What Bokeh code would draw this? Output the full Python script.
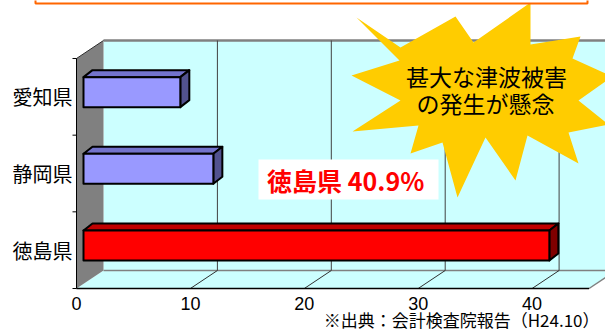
from bokeh.plotting import figure
from bokeh.models import Range1d
from bokeh.core.properties import value
from bokeh.embed import file_html
from bokeh.resources import INLINE

# ---------------- data ----------------
categories = ["徳島県", "静岡県", "愛知県"]      # bottom -> top
values = [40.9, 11.4, 8.5]
bar_colors = ["#FF0000", "#9999FF", "#9999FF"]
top_colors = ["#C00000", "#7373CC", "#7373CC"]
side_colors = ["#800000", "#52528F", "#52528F"]
x_ticks = [0, 10, 20, 30, 40]
x_max = 45
callout_lines = ["甚大な津波被害", "の発生が懸念"]
highlight_text = "徳島県  40.9%"
source_text = "※出典：会計検査院報告（H24.10）"

# ---------------- geometry (pixel layout of the 3-D box) ----------------
W, H = 605, 332
X0_PX, KX = 76.0, 11.39        # value 0 on front plane, px per unit
Y0_PX, KY = 288.0, 76.67       # front floor line, px per category
DEPTH_DX, DEPTH_DY = 27.0, 18.0
BAR_SHIFT_DX, BAR_SHIFT_DY = 7.0, 4.7
BAR_DX, BAR_DY = 9.0, 7.0
BAR_HALF = 15.0 / KY

def X(px):
    return (px - X0_PX) / KX

def Y(py):
    return (Y0_PX - py) / KY

p = figure(width=W, height=H, output_backend="svg", toolbar_location=None,
           x_range=Range1d(X(0), X(W)), y_range=Range1d(Y(H), Y(0)),
           min_border=0, background_fill_color="white", border_fill_color="white")
p.axis.visible = False
p.grid.visible = False
p.outline_line_color = None

ddx, ddy = DEPTH_DX / KX, DEPTH_DY / KY
ncat = len(categories)
ytop = ncat

# back wall
p.patch([0 + ddx, x_max + ddx, x_max + ddx, 0 + ddx],
        [ytop + ddy, ytop + ddy, ddy, ddy], fill_color="#CCFFFF", line_color=None)
# floor
p.patch([0, x_max, x_max + ddx, ddx], [0, 0, ddy, ddy], fill_color="#CCFFFF", line_color=None)
# side wall
p.patch([0, ddx, ddx, 0], [ytop, ytop + ddy, ddy, 0], fill_color="#808080", line_color=None)

# back wall top border and floor back edge
p.line([ddx, x_max + ddx], [ytop + ddy, ytop + ddy], line_color="#808080", line_width=2.5)
p.line([ddx, x_max + ddx], [ddy, ddy], line_color="#808080", line_width=1.5)
p.line([x_max, x_max + ddx], [0, ddy], line_color="#808080", line_width=1.5)

# gridlines on back wall + floor diagonals
for t in x_ticks[1:]:
    p.line([t + ddx, t + ddx], [ddy, ytop + ddy], line_color="#404040", line_width=1)
    p.line([t, t + ddx], [0, ddy], line_color="#303030", line_width=1)

# wall top edge
p.line([0, ddx], [ytop, ytop + ddy], line_color="#303030", line_width=1)
# axes lines
p.line([0, x_max], [0, 0], line_color="black", line_width=1.5)
p.line([0, 0], [0, ytop], line_color="black", line_width=1)
for k in range(ncat + 1):
    p.line([X(X0_PX - 4), 0], [k, k], line_color="black", line_width=1)

# bars
sx, sy = BAR_SHIFT_DX / KX, BAR_SHIFT_DY / KY
bx, by = BAR_DX / KX, BAR_DY / KY
for i, v in enumerate(values):
    x0, x1 = sx, v + sx
    yb, yt = i + 0.5 - BAR_HALF + sy, i + 0.5 + BAR_HALF + sy
    p.patch([x0, x1, x1 + bx, x0 + bx], [yt, yt, yt + by, yt + by],
            fill_color=top_colors[i], line_color="black", line_width=2, line_join="round")
    p.patch([x1, x1 + bx, x1 + bx, x1], [yb, yb + by, yt + by, yt],
            fill_color=side_colors[i], line_color="black", line_width=2, line_join="round")
    p.patch([x0, x1, x1, x0], [yb, yb, yt, yt],
            fill_color=bar_colors[i], line_color="black", line_width=2, line_join="round")

# explosion callout
star_px = [(356, 17), (400, 47), (455, 16), (473, 42), (530, 2), (530, 44), (580, 36),
           (572, 58), (612, 76), (578, 100), (608, 124), (568, 132), (578, 163),
           (527, 135), (515, 180), (485, 137), (457, 197), (442, 142), (410, 153),
           (418, 125), (352, 131), (400, 100), (351, 75), (399, 60)]
p.patch([X(a) for a, b in star_px], [Y(b) for a, b in star_px],
        fill_color="#FFCC00", line_color=None)
p.text(x=[X(486), X(485)], y=[Y(75), Y(102)], text=callout_lines,
       text_font=value("Noto Sans CJK JP"), text_font_size="23px",
       text_align="center", text_baseline="middle", text_color="black")

# title box edge at the very top
p.patch([X(35), X(587), X(587), X(35)], [Y(-10), Y(-10), Y(3), Y(3)],
        fill_color="white", line_color="#FF6600", line_width=2)

# highlight label
p.patch([X(258), X(438), X(438), X(258)], [Y(159), Y(159), Y(199), Y(199)],
        fill_color="white", line_color=None)
p.text(x=[X(348)], y=[Y(179)], text=[highlight_text],
       text_font=value("Noto Sans CJK JP"), text_font_size="25px", text_font_style="bold",
       text_align="center", text_baseline="middle", text_color="#FF0000")

# category labels
p.text(x=[X(72)] * ncat, y=[i + 0.5 for i in range(ncat)], text=categories,
       text_font=value("Noto Sans CJK JP"), text_font_size="20px",
       text_align="right", text_baseline="middle", text_color="black")
# tick labels
p.text(x=x_ticks, y=[Y(303)] * len(x_ticks), text=[str(t) for t in x_ticks],
       text_font=value("Liberation Sans"), text_font_size="18px",
       text_align="center", text_baseline="middle", text_color="black")
# source
p.text(x=[X(599)], y=[Y(319)], text=[source_text],
       text_font=value("Noto Sans CJK JP"), text_font_size="17px",
       text_align="right", text_baseline="middle", text_color="black")

open("out.html", "w").write(file_html(p, INLINE))
